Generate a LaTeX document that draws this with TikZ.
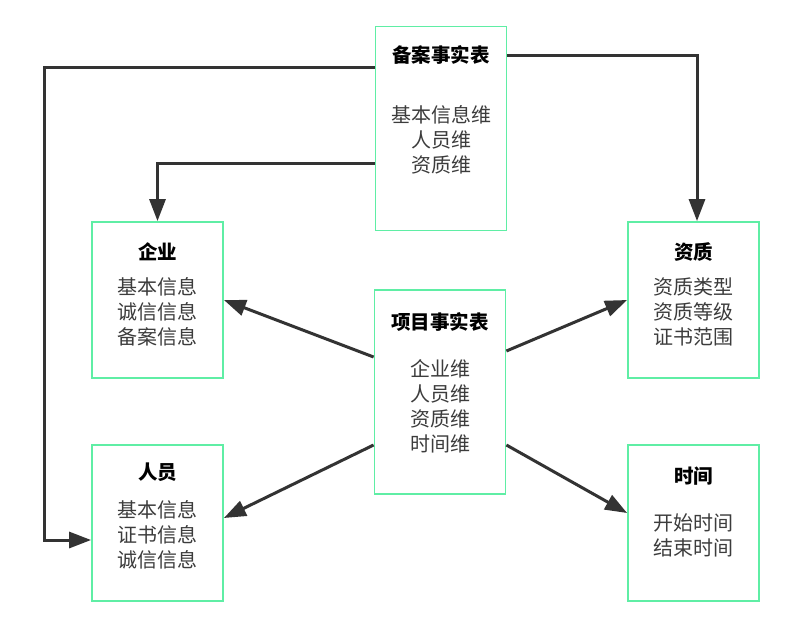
\documentclass[tikz,border=0pt]{standalone}
\usepackage{fontspec}
\setmainfont{Noto Sans CJK SC}
\usetikzlibrary{arrows.meta}
\definecolor{boxgreen}{RGB}{95,238,165}
\definecolor{arrgray}{RGB}{51,51,51}
\definecolor{txtgray}{RGB}{60,60,60}
\tikzset{
  x=1pt,y=-1pt,
  tbl/.style={draw=boxgreen,line width=1.8pt,fill=white,minimum width=131pt,inner sep=0pt},
  tall/.style={tbl,minimum height=204pt},
  short/.style={tbl,minimum height=156pt},
  ttl/.style={font=\fontsize{19.5}{25}\selectfont\bfseries,text=black,inner sep=0pt},
  body/.style={font=\fontsize{20}{25}\selectfont,text=txtgray,align=center,inner sep=0pt},
  arr/.style={draw=arrgray,line width=3pt,-{Triangle[length=22pt,width=16pt]}}
}
\begin{document}
\begin{tikzpicture}
\useasboundingbox[fill=white] (0,0) rectangle (802,629);
\node[tall] (ba) at (441,128.5) {};
\node[short] (qy) at (157.5,300) {};
\node[short] (zz) at (693.5,300) {};
\node[tall] (xm) at (440,392) {};
\node[short] (ry) at (157.5,523) {};
\node[short] (sj) at (693.5,523) {};
% texts
\node[ttl] (bat) at (441,55) {备案事实表};
\node[body] (bab) at (441,140) {基本信息维\\人员维\\资质维};
\node[ttl] (qyt) at (157.5,252) {企业};
\node[body] (qyb) at (157.5,312) {基本信息\\诚信信息\\备案信息};
\node[ttl] (zzt) at (693.5,252) {资质};
\node[body] (zzb) at (693.5,312) {资质类型\\资质等级\\证书范围};
\node[ttl] (xmt) at (440,322) {项目事实表};
\node[body] (xmb) at (440,406.5) {企业维\\人员维\\资质维\\时间维};
\node[ttl] (ryt) at (157.5,472) {人员};
\node[body] (ryb) at (157.5,535) {基本信息\\证书信息\\诚信信息};
\node[ttl] (sjt) at (693.5,476) {时间};
\node[body] (sjb) at (693.5,535.5) {开始时间\\结束时间};
% connectors
\coordinate (k1) at (44,67);
\coordinate (k2) at (44,540);
\draw[arr] ([yshift=61.5pt]ba.west) -- (k1) -- (k2) -- ([yshift=-17pt]ry.west);
\draw[arr] ([yshift=-34.5pt]ba.west) -| (qy.north);
\draw[arr] ([yshift=73.5pt]ba.east) -| ([xshift=3.5pt]zz.north);
\draw[arr] ([yshift=35pt]xm.west) -- (qy.east);
\draw[arr] ([yshift=-53pt]xm.west) -- ([yshift=5pt]ry.east);
\draw[arr] ([yshift=41pt]xm.east) -- (zz.west);
\draw[arr] ([yshift=-53pt]xm.east) -- ([yshift=10pt]sj.west);
\end{tikzpicture}
\end{document}
